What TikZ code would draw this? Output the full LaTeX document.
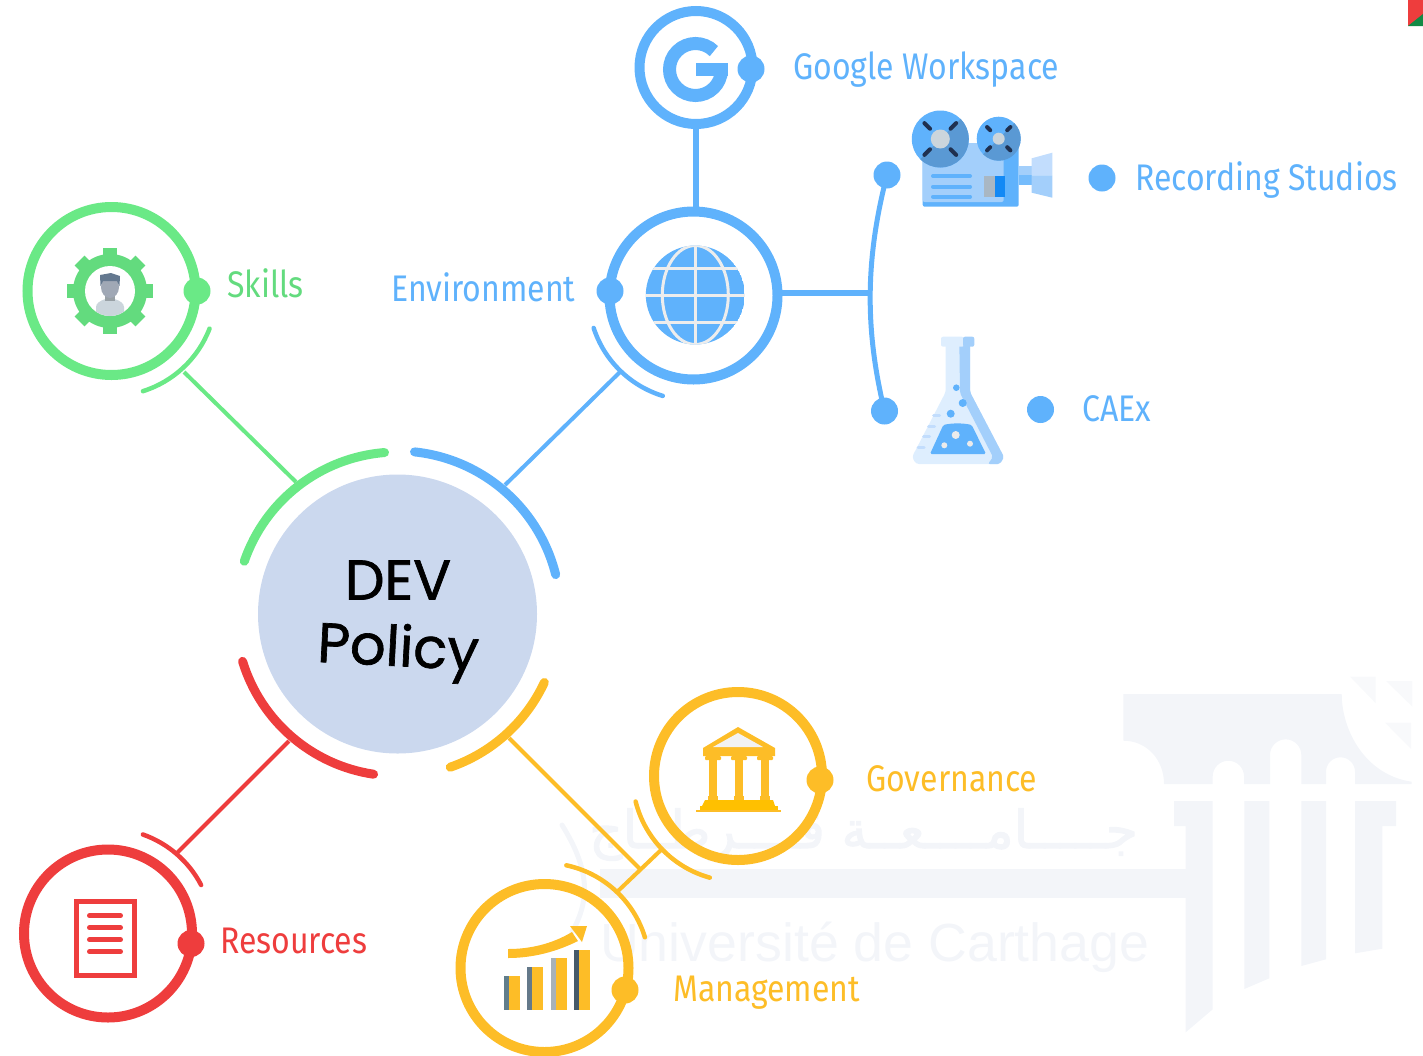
\documentclass[tikz,border=0pt]{standalone}
\usepackage{fontspec}
\usepackage{graphicx}
\usetikzlibrary{calc}
\setmainfont{Fira Sans}
\newfontfamily\lab[FakeStretch=0.865]{Fira Sans}
\newfontfamily\devfont[FakeBold=1.2]{Poppins}
\newfontfamily\wmfont{Liberation Sans}
\TeXXeTstate=1
\newfontfamily\arabicfont[Script=Arabic,FakeBold=2]{DejaVu Sans}
\definecolor{cblue}{HTML}{5FB2FC}
\definecolor{cgreen}{HTML}{6AE986}
\definecolor{cred}{HTML}{EE3D3D}
\definecolor{cyel}{HTML}{FDBD27}
\definecolor{chub}{HTML}{CBD8EE}
\definecolor{wm}{HTML}{F3F5F9}
\definecolor{wmlight}{HTML}{F8F9FB}
\definecolor{lblue}{HTML}{A3CFFB}
\definecolor{pale}{HTML}{DEEEFE}
\definecolor{reelc}{HTML}{5A99D4}
\definecolor{reelmark}{HTML}{1F3050}
\definecolor{gearc}{HTML}{63DB7E}
\definecolor{hubgray}{HTML}{CBD5DC}
\definecolor{lensc}{HTML}{C2DDFD}
\definecolor{grayc}{HTML}{A9B7C3}
\definecolor{deepblue}{HTML}{1289F5}
\definecolor{neckc}{HTML}{75BCFC}
\definecolor{cgold}{HTML}{FFC000}
\definecolor{cgreendark}{HTML}{128A45}
\definecolor{hairc}{HTML}{64788F}
\definecolor{facec}{HTML}{A0A8B5}
\tikzset{
  ring/.style={circle,draw=#1,line width=10pt,minimum size=168pt,inner sep=0pt,fill=none},
  smallring/.style={circle,draw=#1,line width=10pt,minimum size=113pt,inner sep=0pt},
  dot/.style={circle,fill=#1,minimum size=27pt,inner sep=0pt},
  lbl/.style={anchor=base west,inner sep=0pt,text=#1,font=\lab\fontsize{37}{40}\selectfont},
  bigarc/.style={draw=#1,line width=9pt,line cap=round},
  thinarc/.style={draw=#1,line width=4.5pt,line cap=round},
  conn/.style={draw=#1,line width=4pt},
  thickconn/.style={draw=#1,line width=6pt}
}
\newcommand{\arcat}[5]{\draw[#5] ($(#1)+(#2:#4)$) arc[start angle=#2,end angle=#3,radius=#4];}
\begin{document}
\begin{tikzpicture}[x=1pt,y=-1pt]
\useasboundingbox (0,0) rectangle (1423,1055);
% ---- watermark
\fill[wm] (1123.3,694) -- (1341.7,694) .. controls (1341.7,730) and (1365,775) .. (1411.7,781.7) -- (1411.7,784) -- (1355,784) -- (1355,771.8)
  arc[start angle=0,end angle=-180,radius=14.5] -- (1326,784) -- (1301.3,784) -- (1301.3,755)
  arc[start angle=0,end angle=-180,radius=15.65] -- (1270,784) -- (1244,784) -- (1244,776.4)
  arc[start angle=0,end angle=-180,radius=15.65] -- (1212.7,784) -- (1164,784) .. controls (1164,760) and (1147,740.7) .. (1123.3,740.7) -- cycle;
\fill[wmlight] (1350,676.7) -- (1375.7,676.7) -- (1375.7,703.3) -- cycle;
\fill[wmlight] (1386,681) -- (1412.3,681) -- (1412.3,706.7) -- cycle;
\fill[wmlight] (1385,722.7) -- (1411,722.7) -- (1411,749) -- cycle;
\fill[wm] (1174,801) -- (1212.7,801) -- (1212.7,1009.3) -- (1185.7,1032.3) -- (1185.7,826) -- (1174,826) -- cycle;
\fill[wm] (1244.3,801) -- (1269.3,801) -- (1269.3,978.3) -- (1244.3,989) -- cycle;
\fill[wm] (1301.3,801) -- (1326,801) -- (1326,959.3) -- (1301.3,966) -- cycle;
\fill[wm] (1355,801) -- (1396,801) -- (1396,826) -- (1382.3,826) -- (1382.3,948.7) -- (1355,953.3) -- cycle;
\fill[wm] (600,869) rectangle (1186,898);
\draw[wm,line width=5pt,line cap=round] (562,825) .. controls (590,870) and (590,900) .. (572,932);
\node[anchor=base west,inner sep=0pt,text=wm,font=\wmfont\fontsize{53.7}{56}\selectfont] (wmfr) at (600,961) {Université de Carthage};
\node[anchor=base east,inner sep=0pt,text=wm,font=\arabicfont\fontsize{52}{54}\selectfont] (wmar) at (1138,848) {\beginR جـــــامــــعــة قــــرطــاج\endR};
% ---- corner mark
\fill[cred] (1408,0) rectangle (1423,26);
\fill[cgreendark] (1408,26) -- (1423,14) -- (1423,26) -- cycle;
% ---- centre
\node[circle,fill=chub,minimum size=279pt,inner sep=0pt] (hub) at (397.5,614) {};
\node[inner sep=0pt,font=\devfont\fontsize{56}{60}\selectfont] (devt) at (398,580) {DEV};
\node[inner sep=0pt,rotate=-3,font=\devfont\fontsize{56}{60}\selectfont] (polt) at (398,652) {Policy};
\arcat{hub}{-84}{-14}{163}{bigarc=cblue}
\arcat{hub}{-94.6}{-161}{162}{bigarc=cgreen}
\arcat{hub}{163}{98.5}{162}{bigarc=cred}
\arcat{hub}{71}{25}{162}{bigarc=cyel}
% ---- rings
\node[ring=cgreen] (skills) at (111.5,291) {};
\node[ring=cblue] (env) at (693.5,295.5) {};
\node[smallring=cblue] (goog) at (696,67.5) {};
\node[ring=cred] (res) at (108,933.5) {};
\node[ring=cyel] (gov) at (738,776) {};
\node[ring=cyel] (man) at (544.5,968) {};
% ---- small arcs
\arcat{skills}{21}{72.6}{105}{thinarc=cgreen}
\arcat{env}{162}{107}{105}{thinarc=cblue}
\arcat{res}{-70.6}{-27.5}{105}{thinarc=cred}
\arcat{gov}{166}{105.5}{105.5}{thinarc=cyel}
\arcat{man}{-78}{-17}{105}{thinarc=cyel}
% ---- connector ends
\coordinate (gA) at (296,482);
\coordinate (gB) at (184,372);
\coordinate (bA) at (505,485);
\coordinate (bB) at (620,372);
\coordinate (rA) at (289,741);
\coordinate (rB) at (177,853);
\coordinate (yA) at (509,738);
\coordinate (yB) at (640,869);
\coordinate (yC) at (661,850);
\coordinate (yD) at (618,891);
\coordinate (envOut) at (782,293);
\coordinate (curveMid) at (869,293);
\draw[conn=cgreen] (gA) -- (gB);
\draw[conn=cblue] (bA) -- (bB);
\draw[conn=cred] (rA) -- (rB);
\draw[conn=cyel] (yA) -- (yB);
\draw[conn=cyel] (yC) -- (yD);
\draw[thickconn=cblue] (goog.south) -- (goog.south |- env.north);
\draw[thickconn=cblue] (envOut) -- (curveMid);
% ---- dots
\node[dot=cgreen] (dSkills) at (197,291) {};
\node[dot=cblue] (dEnv) at (610,291) {};
\node[dot=cblue] (dGoog) at (751,69) {};
\node[dot=cred] (dRes) at (191,943.5) {};
\node[dot=cyel] (dGov) at (820,780) {};
\node[dot=cyel] (dMan) at (625,990) {};
\node[dot=cblue] (dA) at (887,175) {};
\node[dot=cblue] (dB) at (884.5,411) {};
\node[dot=cblue] (dRec) at (1102,178) {};
\node[dot=cblue] (dCae) at (1040.5,409.5) {};
\draw[draw=cblue,line width=5pt] (dA.center) .. controls (865,260) and (865,330) .. (dB.center);
% ---- labels
\node[lbl=cblue] (tGoog) at (793,79) {Google Workspace};
\node[lbl=cblue] (tRec) at (1135,190) {Recording Studios};
\node[lbl=cblue] (tEnv) at (391,301) {Environment};
\node[lbl=cblue] (tCae) at (1082,421) {CAEx};
\node[lbl=gearc] (tSkills) at (227,297) {Skills};
\node[lbl=cyel] (tGov) at (866,791) {Governance};
\node[lbl=cyel] (tMan) at (673,1001) {Management};
\node[lbl=cred] (tRes) at (220,953) {Resources};
% ---- G icon
\draw[cblue,line width=13pt] ($(695.5,69.5)+(-45:26)$) arc[start angle=-45,end angle=-357,radius=26];
\fill[cblue] (696,63) rectangle (728,76);
% ---- globe
\begin{scope}
\clip (695.3,295) circle[radius=49.5];
\fill[cblue] (695.3,295) circle[radius=49.5];
\draw[white!93!black,line width=3pt] (695.3,240) -- (695.3,350) (640,295) -- (750,295) (640,268) -- (750,268) (640,322) -- (750,322);
\draw[white!93!black,line width=3pt] (695.3,295) ellipse[x radius=33,y radius=49.5];
\end{scope}
% ---- gear and person
\foreach \a in {0,45,...,315}{
  \fill[rotate around={\a:(110,291)},gearc] (103,248) rectangle (117,270);
}
\fill[gearc] (110,291) circle[radius=37];
\fill[white] (110,291) circle[radius=25];
\begin{scope}
\clip (110,291) circle[radius=25];
\fill[rounded corners=3pt,hubgray] (96,316) -- (96,304) -- (104,299) -- (116,299) -- (124,304) -- (124,316) -- cycle;
\fill[black!25!hubgray] (105,294) rectangle (115,301);
\fill[facec] (110,287) ellipse[x radius=9,y radius=11];
\fill[hairc] (100.5,286) -- (100,275) -- (111,273) -- (120,276) -- (119.5,286) -- (117,281) -- (103,281) -- cycle;
\end{scope}
% ---- document
\draw[cred,line width=5pt] (76.8,901.5) rectangle (134.8,975.2);
\foreach \yy in {915.7,927.7,939.7,951.7}{\draw[cred,line width=5pt,line cap=round] (89.5,\yy) -- (120.5,\yy);}
% ---- temple
\fill[cyel] (738,727) -- (775,748) -- (775,756) -- (703,756) -- (703,748) -- cycle;
\fill[white!95!black] (738,733) -- (763,747) -- (713,747) -- cycle;
\foreach \cx in {713,739,765}{
  \fill[cyel] (\cx-4,757) rectangle (\cx+4,802);
  \fill[cyel,rounded corners=1pt] (\cx-8,756) rectangle (\cx+8,760);
  \fill[cyel] (\cx-5,796) rectangle (\cx+5,801);
}
\fill[cgold] (705,800) -- (773,800) -- (775,806) -- (702,806) -- cycle;
\fill[cgold] (700,806) rectangle (778,810);
\fill[cyel] (696,810) rectangle (781,812);
% ---- bar chart
\foreach \xa/\t/\c in {504/975.7/607D8B,527/967/64798A,551/958/A8B2B8,574/950/455A6A}{
  \definecolor{barc}{HTML}{\c}
  \fill[barc] (\xa,\t) rectangle (\xa+6,1010);
  \fill[cyel] (\xa+5,\t) rectangle (\xa+15.5,1010);
}
\fill[cyel] (508,949) .. controls (530,949) and (552,944) .. (572,932) -- (578,941) .. controls (556,952) and (532,958) .. (508,958) -- cycle;
\fill[cyel] (570,926) -- (587,926) -- (582,942) -- cycle;
% ---- projector
\fill[cblue,rounded corners=2pt] (922.7,143) rectangle (1018.7,206.7);
\fill[lblue,rounded corners=2pt] (922.7,143) rectangle (1003.6,202);
\foreach \yy in {176,186.7,196.7}{\draw[cblue,line width=4pt,line cap=round] (933,\yy) -- (970,\yy);}
\fill[grayc] (984.3,176) rectangle (995,196.7);
\fill[deepblue] (995,176) rectangle (1005.3,196.7);
\fill[lblue] (1018.7,166) rectangle (1031.7,175.3);
\fill[neckc] (1018.7,175.3) rectangle (1031.7,185);
\fill[lensc] (1031.7,158.3) -- (1052.3,152.7) -- (1052.3,175.3) -- (1031.7,175.3) -- cycle;
\fill[lblue] (1031.7,175.3) -- (1052.3,175.3) -- (1052.3,197.7) -- (1031.7,192.7) -- cycle;
\coordinate (reelA) at (940.3,139);
\coordinate (reelB) at (998.7,138.7);
\fill[cblue] (reelA) circle[radius=28.5];
\fill[reelc] ($(reelA)+(-45:28.5)$) arc[start angle=-45,end angle=135,radius=28.5] -- cycle;
\fill[hubgray] (reelA) circle[radius=9.5];
\fill[cblue] (reelB) circle[radius=22];
\fill[reelc] ($(reelB)+(-45:22)$) arc[start angle=-45,end angle=135,radius=22] -- cycle;
\fill[hubgray] (reelB) circle[radius=6];
\foreach \a in {45,135,225,315}{
  \draw[reelmark,line width=4pt,line cap=round] ($(reelA)+(\a:14.5)$) -- ($(reelA)+(\a:22.5)$);
  \draw[reelmark,line width=4pt,line cap=round] ($(reelB)+(\a:12)$) -- ($(reelB)+(\a:16.5)$);
}
% ---- flask
\fill[pale,rounded corners=3pt] (945.7,340) -- (970,340) -- (970,392) -- (1004,457) -- (1000,464) -- (916,464) -- (912,457) -- (945.7,392) -- cycle;
\fill[lblue,rounded corners=2pt] (959.3,340) -- (970,340) -- (970,392) -- (1004,457) -- (1000,464) -- (988,464) -- (993,457) -- (960,393) -- cycle;
\fill[pale,rounded corners=2pt] (941,336.7) rectangle (964,346.7);
\fill[lblue,rounded corners=2pt] (963,336.7) rectangle (974.3,346.7);
\fill[cblue,rounded corners=1.5pt] (930,454) -- (943.3,425) .. controls (952,423) and (963,423) .. (971.7,425) -- (986,454) -- cycle;
\foreach \px/\py/\pr in {955.7/435/4,944.3/445.3/3,970/443.7/3}{\fill[white!92!black] (\px,\py) circle[radius=\pr];}
\foreach \px/\py/\pr in {956.3/387.7/3.3,962.7/403/4,950.7/413.7/4}{\fill[cblue] (\px,\py) circle[radius=\pr];}
\foreach \px/\py in {936.7/415.7,931.7/426,926.7/436.7,921/447}{\draw[lensc,line width=3pt,line cap=round] (\px-3,\py) -- (\px+3,\py);}
\end{tikzpicture}
\end{document}
